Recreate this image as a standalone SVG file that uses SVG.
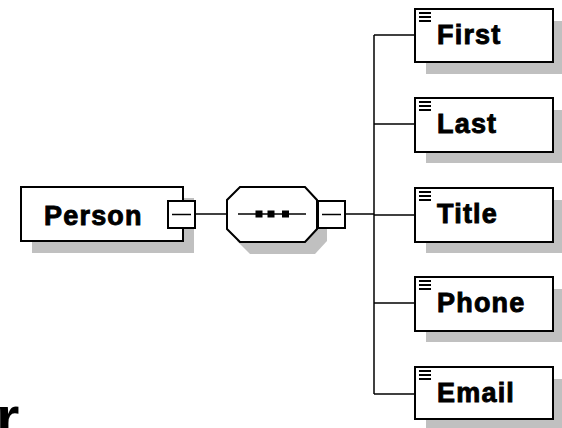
<svg xmlns="http://www.w3.org/2000/svg" width="562" height="428" viewBox="0 0 562 428">
<style>
.box{fill:#ffffff;stroke:#000000;stroke-width:2}
.sh{fill:#c0c0c0;stroke:none}
.ln{stroke:#000000;stroke-width:1.5;fill:none}
.lbl{font-family:"Liberation Sans",Arial,sans-serif;font-weight:bold;font-size:27px;letter-spacing:1.2px;fill:#000000;stroke:#000000;stroke-width:0.9px}
.ic{stroke:#000000;stroke-width:2}
</style>
<defs>
<g id="icon"><line class="ic" x1="0" y1="0" x2="12" y2="0"/><line class="ic" x1="0" y1="4" x2="12" y2="4"/><line class="ic" x1="0" y1="8" x2="12" y2="8"/></g>
</defs>
<rect width="562" height="428" fill="#ffffff"/>
<g id="connectors">
<line class="ln" x1="195" y1="214" x2="227" y2="214"/>
<line class="ln" x1="345" y1="214" x2="374" y2="214"/>
<line class="ln" x1="374" y1="35" x2="374" y2="394"/>
<line class="ln" x1="374" y1="35" x2="415" y2="35"/>
<line class="ln" x1="374" y1="124" x2="415" y2="124"/>
<line class="ln" x1="374" y1="215" x2="415" y2="215"/>
<line class="ln" x1="374" y1="303" x2="415" y2="303"/>
<line class="ln" x1="374" y1="394" x2="415" y2="394"/>
</g>
<g id="person">
<rect class="sh" x="32" y="198" width="162" height="55"/>
<rect class="box" x="21" y="187" width="162" height="54"/>
<text class="lbl" x="44" y="225" font-size="28">Person</text>
<rect class="box" x="168" y="201" width="27" height="27"/>
<line class="ln" x1="172" y1="214.5" x2="191" y2="214.5" stroke-width="2"/>
</g>
<g id="sequence">
<polygon class="sh" points="250,199 315,199 327,212 327,241 315,254 250,254 237,241 237,212"/>
<polygon class="box" points="240,187 305,187 317,200 317,229 305,242 240,242 227,229 227,200"/>
<line class="ln" x1="238" y1="214" x2="306" y2="214" stroke-width="2"/>
<rect x="255.5" y="210.5" width="7" height="7" fill="#000000"/>
<rect x="267.5" y="210.5" width="7" height="7" fill="#000000"/>
<rect x="282" y="210.5" width="7" height="7" fill="#000000"/>
<rect class="box" x="318" y="201" width="27" height="27"/>
<line class="ln" x1="322" y1="214.5" x2="341" y2="214.5" stroke-width="2"/>
</g>
<g id="first">
<rect class="sh" x="426" y="21" width="138" height="53"/>
<rect class="box" x="415" y="9" width="138" height="53"/>
<use href="#icon" x="419" y="13"/>
<text class="lbl" x="437" y="44">First</text>
</g>
<g id="last">
<rect class="sh" x="426" y="110" width="138" height="53"/>
<rect class="box" x="415" y="98" width="138" height="54"/>
<use href="#icon" x="419" y="102"/>
<text class="lbl" x="437" y="133">Last</text>
</g>
<g id="title">
<rect class="sh" x="426" y="200" width="138" height="53"/>
<rect class="box" x="415" y="188" width="138" height="54"/>
<use href="#icon" x="419" y="192"/>
<text class="lbl" x="437" y="223">Title</text>
</g>
<g id="phone">
<rect class="sh" x="426" y="289" width="138" height="53"/>
<rect class="box" x="415" y="277" width="138" height="54"/>
<use href="#icon" x="419" y="281"/>
<text class="lbl" x="437" y="312">Phone</text>
</g>
<g id="email">
<rect class="sh" x="426" y="379" width="138" height="53"/>
<rect class="box" x="415" y="367" width="138" height="52"/>
<use href="#icon" x="419" y="371"/>
<text class="lbl" x="437" y="402">Email</text>
</g>
<text x="-4" y="438" font-family="'Liberation Sans',Arial,sans-serif" font-weight="bold" font-size="60" fill="#000000">r</text>
</svg>
